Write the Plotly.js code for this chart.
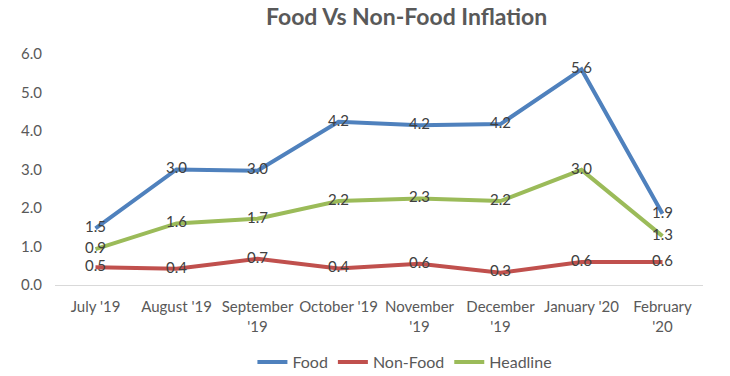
<!DOCTYPE html>
<html><head><meta charset="utf-8">
<script src="https://cdn.plot.ly/plotly-3.0.1.min.js"></script>
<style>body{margin:0;background:#fff}#chart{width:730px;height:376px}</style>
</head><body><div id="chart"></div>
<script>
const categories = ["July '19","August '19","September<br>'19","October '19","November<br>'19","December<br>'19","January '20","February<br>'20"];
const food = [1.47, 3.0, 2.97, 4.24, 4.15, 4.18, 5.6, 1.85];
const nonFood = [0.46, 0.42, 0.68, 0.43, 0.55, 0.32, 0.6, 0.6];
const headline = [0.93, 1.6, 1.72, 2.18, 2.25, 2.18, 2.99, 1.27];
const seriesNames = ["Food","Non-Food","Headline"];
const colors = ["#4F81BD","#C0504D","#9BBB59"];
const F = "Lato, 'Open Sans', sans-serif";
const data = [food, nonFood, headline].map((v,i)=>({
  x: categories, y: v, name: seriesNames[i], type:'scatter', mode:'lines+text',
  line:{color:colors[i], width:4},
  text: v.map(a=>a.toFixed(1)), textposition:'middle center',
  textfont:{family:F, size:15, color:'#404040'}, cliponaxis:false, hoverinfo:'none'
}));
const layout = {
  width:730, height:376, margin:{l:55,r:27,t:54,b:91},
  paper_bgcolor:'#fff', plot_bgcolor:'#fff',
  title:{text:'<b>Food Vs Non-Food Inflation</b>', font:{family:F, size:23, color:'#595959'}, x:0.557, xanchor:'center', yref:'container', y:0.955, yanchor:'middle'},
  xaxis:{type:'category', showgrid:false, zeroline:false, showline:true, linecolor:'#d9d9d9', linewidth:1, automargin:false,
    tickfont:{family:F, size:15, color:'#595959'}, ticks:'', ticklabelstandoff:8, range:[-0.5,7.5]},
  yaxis:{range:[0,6], dtick:1, tickformat:'.1f', showgrid:false, zeroline:false, showline:false, automargin:false,
    tickfont:{family:F, size:15, color:'#595959'}, ticks:'', ticklabelstandoff:12},
  legend:{orientation:'h', x:0.54, xanchor:'center', yref:'container', y:0.037, yanchor:'middle', font:{family:F, size:16, color:'#595959'}},
  showlegend:true
};
Plotly.newPlot('chart', data, layout, {staticPlot:true});
</script></body></html>
